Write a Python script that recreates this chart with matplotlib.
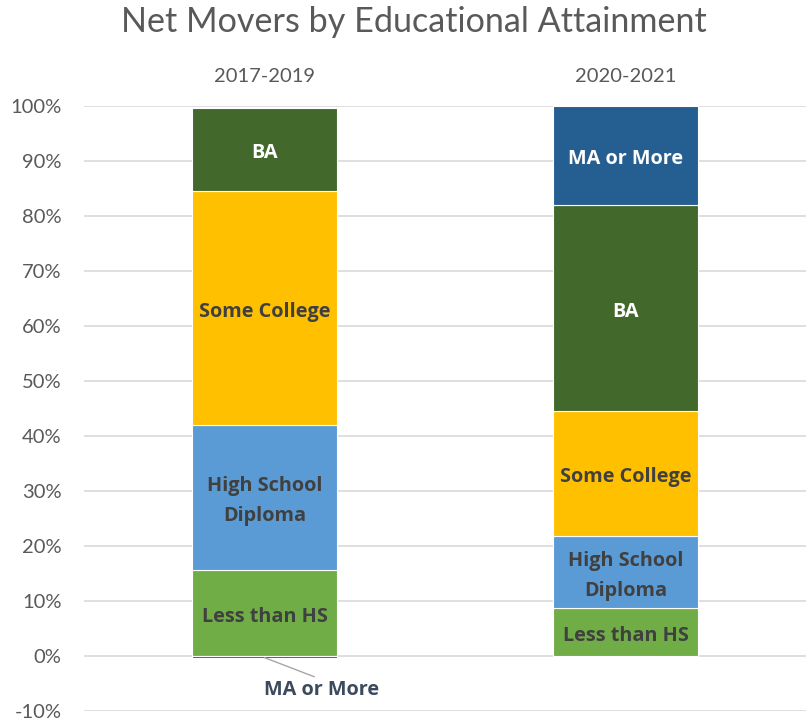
import matplotlib
matplotlib.use("Agg")
import matplotlib.pyplot as plt
import numpy as np

plt.rcParams['font.family'] = ['Lato', 'DejaVu Sans']

periods = ["2017-2019", "2020-2021"]
series_names = ["Less than HS", "High School\nDiploma", "Some College", "BA", "MA or More"]
less_than_hs = [15.7, 8.7]
high_school = [26.3, 13.1]
some_college = [42.5, 22.7]
ba = [15.2, 37.5]
ma_or_more = [-0.3, 18.0]
y_ticks = [-10, 0, 10, 20, 30, 40, 50, 60, 70, 80, 90, 100]

colors = ["#70AD47", "#5B9BD5", "#FFC000", "#43682B", "#255E91"]
label_colors = ["#404040", "#404040", "#404040", "white", "white"]
label_font = ['Open Sans', 'DejaVu Sans']

fig = plt.figure(figsize=(8.07, 7.21), dpi=100)
ax = fig.add_axes([0.104, 0.0139, 0.895, 0.839])

x = np.arange(len(periods))
width = 0.40
series = [less_than_hs, high_school, some_college, ba, ma_or_more]
pos_bottom = np.zeros(len(periods))
neg_bottom = np.zeros(len(periods))
for i, (vals, name) in enumerate(zip(series, series_names)):
    vals = np.array(vals, dtype=float)
    bottoms = np.where(vals >= 0, pos_bottom, neg_bottom)
    bars = ax.bar(x, vals, width, bottom=bottoms, color=colors[i],
                  edgecolor="white", linewidth=0.8, zorder=3)
    for j, v in enumerate(vals):
        if v > 3:
            ax.annotate(name, xy=(x[j], bottoms[j] + v / 2), xytext=(0, -2.7),
                        textcoords="offset points", ha="center", va="center",
                        fontsize=14.3, fontweight="bold", color=label_colors[i],
                        family=label_font, linespacing=1.65, zorder=4)
        else:
            ax.annotate(name, xy=(x[j], bottoms[j] + v), xytext=(x[j] + 0.158, -6.1),
                        ha="center", va="center", fontsize=14.3, fontweight="bold",
                        color="#3B4A5C", family=label_font, zorder=4,
                        arrowprops=dict(arrowstyle="-", color="#A6A6A6", lw=1,
                                        shrinkA=0, shrinkB=0,
                                        relpos=(0.5, 1.0)))
    pos_bottom = pos_bottom + np.where(vals >= 0, vals, 0)
    neg_bottom = neg_bottom + np.where(vals < 0, vals, 0)

ax.set_ylim(-10, 100)
ax.set_xlim(-0.5, 1.5)
ax.set_yticks(y_ticks)
ax.set_yticklabels([f"{t}%" for t in y_ticks])
ax.yaxis.grid(True, color="#D9D9D9", linewidth=1.2, zorder=0)
ax.set_axisbelow(True)
ax.tick_params(axis="y", length=0, pad=16, labelsize=14.5, labelcolor="#595959")
ax.xaxis.tick_top()
ax.set_xticks(x)
ax.set_xticklabels(periods)
ax.tick_params(axis="x", length=0, pad=15, labelsize=14.5, labelcolor="#595959")
for s in ax.spines.values():
    s.set_visible(False)

fig.text(0.513, 0.970, "Net Movers by Educational Attainment", ha="center", va="center",
         fontsize=24.6, color="#595959")

fig.savefig("out.png", dpi=100)
